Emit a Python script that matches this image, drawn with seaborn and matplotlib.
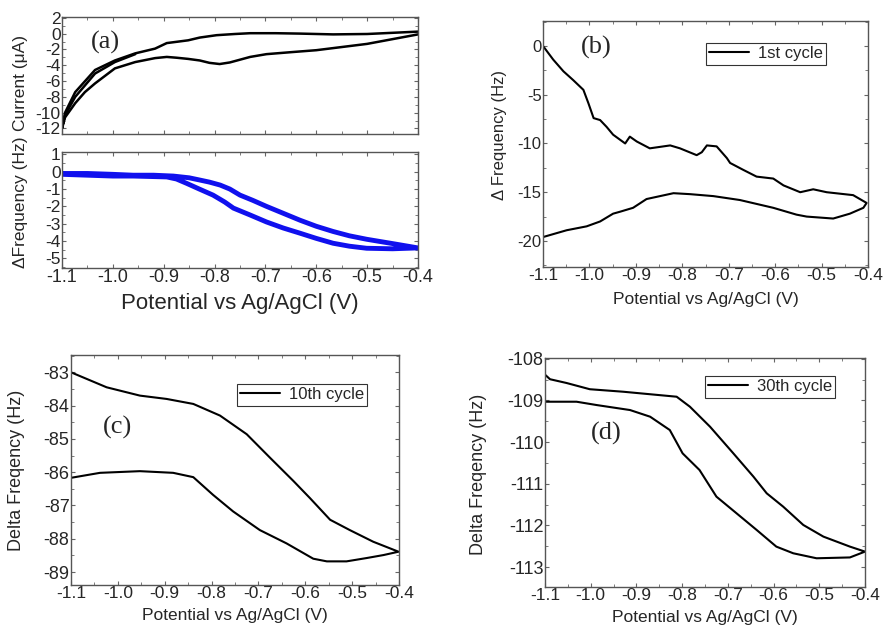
import numpy as np
import pandas as pd
import matplotlib
matplotlib.use("Agg")
import matplotlib.pyplot as plt
from matplotlib.ticker import MultipleLocator
import seaborn as sns

# ---- data ----
# (a) top: cyclic voltammogram, current in uA
a1_v = [-0.40, -0.45, -0.50, -0.55, -0.60, -0.65, -0.698, -0.73, -0.75, -0.77, -0.79, -0.81, -0.829, -0.852,
        -0.875, -0.894, -0.917, -0.956, -0.996, -1.035, -1.055, -1.074, -1.094, -1.10,
        -1.094, -1.074, -1.035, -0.996, -0.956, -0.917, -0.894, -0.852, -0.829, -0.796, -0.76, -0.73,
        -0.68, -0.632, -0.567, -0.50, -0.45, -0.40]
a1_i = [-0.1, -0.7, -1.3, -1.7, -2.1, -2.35, -2.6, -2.95, -3.3, -3.65, -3.85, -3.7, -3.4, -3.2,
        -3.05, -2.95, -3.1, -3.6, -4.4, -6.3, -7.4, -8.8, -10.6, -12.0,
        -10.0, -7.4, -4.6, -3.4, -2.5, -1.9, -1.2, -0.85, -0.5, -0.2, -0.05, 0.05,
        0.05, 0.0, -0.1, -0.05, 0.1, 0.25]
a1_v2 = [-0.956, -0.996, -1.035, -1.074, -1.094, -1.10]
a1_i2 = [-2.6, -3.6, -5.05, -8.0, -10.3, -11.9]

# (a) bottom: frequency shift, Hz
a2_v = [-1.10, -1.05, -1.00, -0.96, -0.92, -0.894, -0.875, -0.855, -0.83, -0.803, -0.78, -0.763, -0.73, -0.698,
        -0.665, -0.632, -0.60, -0.567, -0.535, -0.501, -0.45, -0.40,
        -0.45, -0.501, -0.535, -0.567, -0.60, -0.632, -0.665, -0.698, -0.725, -0.75, -0.77, -0.789,
        -0.81, -0.829, -0.85, -0.881, -0.92, -0.96, -1.00, -1.05, -1.10]
a2_f = [-0.15, -0.2, -0.25, -0.25, -0.28, -0.3, -0.42, -0.67, -1.0, -1.35, -1.75, -2.1, -2.5, -2.9,
        -3.25, -3.55, -3.85, -4.13, -4.3, -4.42, -4.45, -4.4,
        -4.15, -3.9, -3.7, -3.45, -3.15, -2.8, -2.4, -2.0, -1.65, -1.35, -1.0, -0.77,
        -0.6, -0.48, -0.35, -0.25, -0.2, -0.2, -0.15, -0.1, -0.1]

# (b) 1st cycle
b_v = [-1.10, -1.078, -1.056, -1.035, -1.013, -1.002, -0.991, -0.977, -0.963, -0.949, -0.923, -0.913,
       -0.898, -0.870, -0.826, -0.805, -0.769, -0.758, -0.747, -0.726, -0.704, -0.697, -0.669, -0.640,
       -0.604, -0.582, -0.546, -0.518, -0.489, -0.432, -0.403,
       -0.410, -0.439, -0.475, -0.532, -0.554, -0.604, -0.676, -0.733, -0.783, -0.819, -0.877, -0.906,
       -0.934, -0.949, -0.977, -1.006, -1.049, -1.10]
b_f = [0.0, -1.4, -2.6, -3.5, -4.5, -5.9, -7.4, -7.6, -8.3, -9.1, -10.0, -9.3,
       -9.8, -10.5, -10.2, -10.5, -11.2, -10.9, -10.2, -10.3, -11.5, -12.0, -12.7, -13.4,
       -13.6, -14.3, -15.0, -14.7, -15.0, -15.3, -16.1,
       -16.6, -17.2, -17.7, -17.5, -17.3, -16.6, -15.8, -15.4, -15.2, -15.1, -15.7, -16.6,
       -17.0, -17.2, -18.0, -18.5, -18.9, -19.6]

# (c) 10th cycle
c_v = [-1.10, -1.024, -0.953, -0.896, -0.839, -0.782, -0.725, -0.675, -0.625, -0.590, -0.547, -0.505,
       -0.455, -0.401,
       -0.433, -0.469, -0.512, -0.554, -0.583, -0.640, -0.697, -0.754, -0.797, -0.839, -0.882, -0.953,
       -1.038, -1.10]
c_f = [-83.0, -83.45, -83.7, -83.8, -83.95, -84.3, -84.86, -85.57, -86.27, -86.78, -87.43, -87.74,
       -88.09, -88.39,
       -88.49, -88.58, -88.68, -88.68, -88.6, -88.14, -87.74, -87.18, -86.68, -86.15, -86.02, -85.97,
       -86.02, -86.17]

# (d) 30th cycle
d_v = [-1.10, -1.089, -1.053, -1.002, -0.929, -0.812, -0.783, -0.739, -0.688, -0.644, -0.615, -0.579,
       -0.535, -0.491, -0.433, -0.40,
       -0.433, -0.506, -0.557, -0.594, -0.637, -0.681, -0.725, -0.762, -0.799, -0.827, -0.870, -0.914,
       -0.987, -1.031, -1.10]
d_f = [-108.38, -108.49, -108.58, -108.73, -108.79, -108.91, -109.15, -109.63, -110.27, -110.83, -111.23,
       -111.55, -111.99, -112.27, -112.51, -112.63,
       -112.77, -112.79, -112.67, -112.51, -112.11, -111.71, -111.31, -110.67, -110.27, -109.71, -109.39,
       -109.23, -109.11, -109.03, -109.03]

xticks = [-1.1, -1.0, -0.9, -0.8, -0.7, -0.6, -0.5, -0.4]
xticklabels = ["-1.1", "-1.0", "-0.9", "-0.8", "-0.7", "-0.6", "-0.5", "-0.4"]
xlab = "Potential vs Ag/AgCl (V)"

sns.set_style("ticks")
plt.rcParams["font.family"] = ["Liberation Sans", "DejaVu Sans"]
plt.rcParams["axes.unicode_minus"] = False

fig = plt.figure(figsize=(8.84, 6.27), dpi=100)
W, H = 884, 627


def box(x0, y0, x1, y1):
    return [x0 / W, 1 - y1 / H, (x1 - x0) / W, (y1 - y0) / H]


ax_a1 = fig.add_axes(box(62, 17, 418, 134))
ax_a2 = fig.add_axes(box(62, 152, 418, 268))
ax_b = fig.add_axes(box(543, 21, 868, 267))
ax_c = fig.add_axes(box(71, 355, 399, 585))
ax_d = fig.add_axes(box(545, 358, 865, 587))


def style(ax, ylo, yhi, ymaj, xfs, yfs):
    ax.set_xlim(-1.1, -0.4)
    ax.set_ylim(ylo, yhi)
    ax.set_xticks(xticks)
    ax.set_xticklabels(xticklabels)
    ax.xaxis.set_minor_locator(MultipleLocator(0.05))
    ax.yaxis.set_major_locator(MultipleLocator(ymaj))
    ax.yaxis.set_minor_locator(MultipleLocator(ymaj / 2))
    ax.tick_params(which="both", direction="in", top=True, right=True,
                   color="#666666", pad=1)
    ax.tick_params(axis="x", labelsize=xfs)
    ax.tick_params(axis="y", labelsize=yfs)
    ax.tick_params(which="major", length=3)
    ax.tick_params(which="minor", length=2)
    for s in ax.spines.values():
        s.set_color("#555555")
        s.set_linewidth(1.0)
        s.set_visible(True)


# (a) top
sns.lineplot(x=a1_v, y=a1_i, sort=False, estimator=None, color="black", lw=1.8, ax=ax_a1)
sns.lineplot(x=a1_v2, y=a1_i2, sort=False, estimator=None, color="black", lw=1.8, ax=ax_a1)
style(ax_a1, -12.7, 2.1, 2, 13, 12.5)
ax_a1.set_xticklabels([])
ax_a1.set_ylabel("Current (\u03bcA)", fontsize=12.5)
ax_a1.yaxis.set_label_coords(-0.096, 0.44)

# (a) bottom
sns.lineplot(x=a2_v, y=a2_f, sort=False, estimator=None, color="#1010ee", lw=3.5, ax=ax_a2)
style(ax_a2, -5.56, 1.14, 1, 13, 12.5)
ax_a2.set_ylabel("\u0394Frequency (Hz)", fontsize=12.5)
ax_a2.yaxis.set_label_coords(-0.096, 0.57)
ax_a2.set_xlabel(xlab, fontsize=16)
ax_a2.xaxis.set_label_coords(0.5, -0.215)

# (b)
sns.lineplot(x=b_v, y=b_f, sort=False, estimator=None, color="black", lw=1.5, ax=ax_b, label="1st cycle")
style(ax_b, -22.67, 2.56, 5, 12.5, 12)
ax_b.set_ylabel("\u0394 Frequency (Hz)", fontsize=12)
ax_b.yaxis.set_label_coords(-0.111, 0.537)
ax_b.set_xlabel(xlab, fontsize=12.5)
ax_b.xaxis.set_label_coords(0.5, -0.10)

# (c)
sns.lineplot(x=c_v, y=c_f, sort=False, estimator=None, color="black", lw=1.5, ax=ax_c, label="10th cycle")
style(ax_c, -89.39, -82.48, 1, 12.5, 13)
ax_c.set_ylabel("Delta Freqency (Hz)", fontsize=13)
ax_c.yaxis.set_label_coords(-0.14, 0.5)
ax_c.set_xlabel(xlab, fontsize=12.5)
ax_c.xaxis.set_label_coords(0.5, -0.102)

# (d)
sns.lineplot(x=d_v, y=d_f, sort=False, estimator=None, color="black", lw=1.5, ax=ax_d, label="30th cycle")
style(ax_d, -113.48, -107.98, 1, 12.5, 13)
ax_d.set_ylabel("Delta Freqency (Hz)", fontsize=13)
ax_d.yaxis.set_label_coords(-0.181, 0.49)
ax_d.set_xlabel(xlab, fontsize=12.5)
ax_d.xaxis.set_label_coords(0.5, -0.10)

# legends
for ax, (lx, ly) in [(ax_b, (706, 43)), (ax_c, (237, 384)), (ax_d, (705, 376))]:
    leg = ax.legend(loc="upper left", bbox_to_anchor=(lx / W, 1 - ly / H),
                    bbox_transform=fig.transFigure, fancybox=False, frameon=True,
                    edgecolor="black", fontsize=12, borderpad=0.2, handlelength=2.4,
                    handletextpad=0.5, borderaxespad=0)
    leg.get_frame().set_linewidth(0.8)

# panel letters
for txt, (px, py) in [("(a)", (105, 42)), ("(b)", (596, 47)), ("(c)", (118, 427)), ("(d)", (606, 433))]:
    fig.text(px / W, 1 - py / H, txt, ha="center", va="center",
             fontsize=19, family=["Liberation Serif", "DejaVu Serif"])

fig.savefig("out.png", dpi=100)
